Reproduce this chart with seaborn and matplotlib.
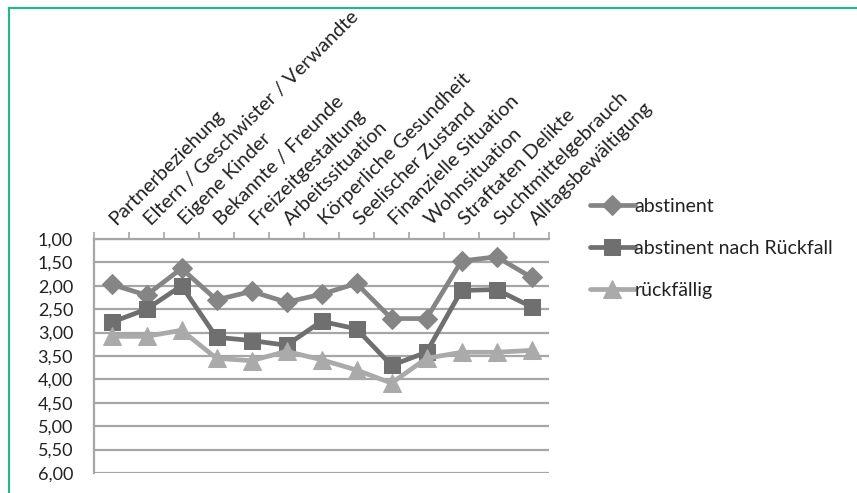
import matplotlib
matplotlib.use("Agg")
import matplotlib.pyplot as plt
from matplotlib.lines import Line2D
from matplotlib.transforms import offset_copy
import seaborn as sns
import pandas as pd

categories = [
    "Partnerbeziehung", "Eltern / Geschwister / Verwandte", "Eigene Kinder",
    "Bekannte / Freunde", "Freizeitgestaltung", "Arbeitssituation",
    "Körperliche Gesundheit", "Seelischer Zustand", "Finanzielle Situation",
    "Wohnsituation", "Straftaten Delikte", "Suchtmittelgebrauch",
    "Alltagsbewältigung",
]
abstinent = [1.97, 2.2, 1.63, 2.3, 2.12, 2.35, 2.18, 1.95, 2.7, 2.7, 1.47, 1.38, 1.82]
abstinent_nach_rueckfall = [2.78, 2.5, 2.0, 3.1, 3.17, 3.27, 2.76, 2.92, 3.7, 3.42, 2.1, 2.08, 2.45]
rueckfaellig = [3.08, 3.08, 2.95, 3.55, 3.6, 3.4, 3.58, 3.8, 4.08, 3.55, 3.42, 3.42, 3.38]
series_names = ["abstinent", "abstinent nach Rückfall", "rückfällig"]
y_ticks = [1.0, 1.5, 2.0, 2.5, 3.0, 3.5, 4.0, 4.5, 5.0, 5.5, 6.0]

sns.set_style("white")
plt.rcParams["font.family"] = ["Lato", "DejaVu Sans"]

df = pd.DataFrame({
    "kategorie": categories * 3,
    "pos": list(range(len(categories))) * 3,
    "wert": abstinent + abstinent_nach_rueckfall + rueckfaellig,
    "gruppe": [series_names[0]] * 13 + [series_names[1]] * 13 + [series_names[2]] * 13,
})

colors = {"abstinent": "#858585", "abstinent nach Rückfall": "#6f6f6f", "rückfällig": "#aaaaaa"}
markers = {"abstinent": "D", "abstinent nach Rückfall": "s", "rückfällig": "^"}
msizes = {"abstinent": 10, "abstinent nach Rückfall": 12, "rückfällig": 13}

fig = plt.figure(figsize=(8.57, 4.93), dpi=100)
ax = fig.add_axes([94 / 857, 1 - 473 / 493, (549 - 94) / 857, (473 - 239) / 493])

grid_color = "#a6a6a6"
text_color = "#222222"
for yv in y_ticks:
    ax.axhline(yv, color=grid_color, lw=1.6, zorder=0)

for name in series_names:
    sub = df[df["gruppe"] == name]
    sns.lineplot(data=sub, x="pos", y="wert", ax=ax, color=colors[name], lw=3.4,
                 marker=markers[name], markersize=msizes[name],
                 markeredgecolor=colors[name], label=name, zorder=3)

n = len(categories)
ax.set_xlim(-0.5, n - 0.5)
ax.set_ylim(6.0, 1.0)
ax.set_yticks(y_ticks)
ax.set_yticklabels([f"{v:.2f}".replace(".", ",") for v in y_ticks], fontsize=13, color=text_color)
ax.set_xlabel("")
ax.set_ylabel("")

# Category boundaries as tick marks on the top axis
ax.xaxis.set_ticks_position("top")
ax.set_xticks([i - 0.5 for i in range(n + 1)])
ax.set_xticklabels([])
ax.tick_params(axis="x", which="major", direction="out", length=5, width=1.2, color=grid_color, top=True, bottom=False)
ax.tick_params(axis="y", direction="out", length=6, width=1.2, color=grid_color, pad=9)

# Rotated category names above the plot area
label_tr = offset_copy(ax.transData, fig=fig, x=7, y=11, units="dots")
for i, cat in enumerate(categories):
    ax.text(i, 1.0, cat, rotation=45, rotation_mode="anchor", transform=label_tr,
            ha="left", va="bottom", fontsize=14.3, color=text_color, clip_on=False)

for side in ["right", "bottom"]:
    ax.spines[side].set_visible(False)
ax.spines["left"].set_color(grid_color)
ax.spines["left"].set_linewidth(1.6)
ax.spines["top"].set_color(grid_color)
ax.spines["top"].set_linewidth(1.6)

leg = ax.legend(loc="upper left", bbox_to_anchor=(582 / 857, 1 - 190 / 493),
                bbox_transform=fig.transFigure, frameon=False, fontsize=14,
                handlelength=2.3, handletextpad=0.0, labelspacing=1.28,
                borderaxespad=0)
for t in leg.get_texts():
    t.set_color(text_color)

frame_color = "#22b98a"
fig.add_artist(Line2D([9 / 857, 9 / 857], [0, 1 - 8 / 493], transform=fig.transFigure, color=frame_color, lw=1.5))
fig.add_artist(Line2D([9 / 857, 1], [1 - 8 / 493, 1 - 8 / 493], transform=fig.transFigure, color=frame_color, lw=1.5))

fig.savefig("out.png", dpi=100)
